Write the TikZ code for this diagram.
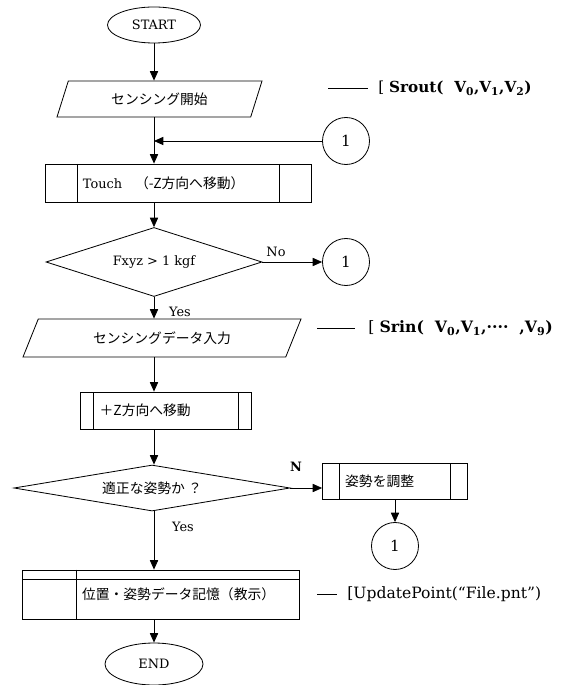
\documentclass[tikz,border=0pt]{standalone}
\usepackage{fontspec}
\setmainfont{DejaVu Serif}
\newfontfamily\jp[Scale=1.07]{Noto Sans CJK JP}
\usetikzlibrary{shapes.geometric,arrows.meta}
\tikzset{
  arr/.style={-{Triangle[length=8pt,width=7pt]}},
  term/.style={draw, ellipse, minimum width=2.79cm, minimum height=1.08cm, inner sep=0pt},
  io/.style={draw, trapezium, trapezium stretches body, inner sep=0pt},
  test/.style={draw, diamond, inner sep=0pt},
  conn/.style={draw, circle, minimum size=1.41cm, inner sep=0pt, font=\fontsize{13}{15}\selectfont},
  subproc/.style={draw, rectangle, inner xsep=0pt, align=left,
    path picture={
      \draw ([xshift=#1]path picture bounding box.north west) -- ([xshift=#1]path picture bounding box.south west);
      \draw ([xshift=-#1]path picture bounding box.north east) -- ([xshift=-#1]path picture bounding box.south east);}},
  note/.style={anchor=west, inner sep=0pt, font=\fontsize{13}{15}\selectfont},
}
\begin{document}
\begin{tikzpicture}[x=0.03cm, y=-0.03cm, line width=0.7pt, font=\fontsize{11}{13}\selectfont]
\useasboundingbox (0,0) rectangle (560,685);
	% main column
	\node[term] (start) at (154,25) {START};
	\node[io, trapezium left angle=48.4, trapezium right angle=131.6, minimum width=6.15cm, minimum height=1.08cm] (sense) at (159.5,99) {{\jp センシング開始}};
	\node[subproc=0.96cm, minimum width=7.98cm, text width=7.98cm, minimum height=1.14cm] (touch) at (178,183) {\hspace*{1.14cm}Touch\quad{\jp （-Z方向へ移動）}};
	\node[test, aspect=3.13, minimum width=6.48cm, minimum height=2.07cm] (fxyz) at (154,262) {Fxyz > 1 kgf};
	\node[io, trapezium left angle=40.2, trapezium right angle=139.8, minimum width=8.34cm, minimum height=1.14cm] (sdata) at (162,338) {{\jp センシングデータ入力}};
	\node[subproc=0.39cm, minimum width=5.13cm, text width=5.13cm, minimum height=1.11cm] (movez) at (165.5,410.5) {\hspace*{0.59cm}{\jp ＋Z方向へ移動}};
	\node[test, aspect=6, minimum width=8.28cm, minimum height=1.38cm] (pose) at (152,488) {{\jp 適正な姿勢か ？}};
	\node[draw, rectangle, inner xsep=0pt, align=left, minimum width=8.3cm, text width=8.3cm, minimum height=1.47cm] (store) at (160.75,594.5) {\hspace*{1.79cm}{\jp 位置・姿勢データ記憶（教示）}};
	\draw ([xshift=1.64cm]store.north west) -- ([xshift=1.64cm]store.south west);
	\draw ([yshift=-0.3cm]store.north west) -- ([yshift=-0.3cm]store.north east);
	\node[term, minimum width=2.94cm, minimum height=1.26cm] (end) at (154,664) {END};
	% side branch
	\node[conn] (c1) at (346,141) {1};
	\node[conn] (c2) at (346,262) {1};
	\node[subproc=0.51cm, minimum width=4.35cm, text width=4.35cm, minimum height=1.08cm] (adjust) at (395,481) {\hspace*{0.68cm}{\jp 姿勢を調整}};
	\node[conn] (c3) at (395,546) {1};
	% labels
	\node (no) at (276,252) {No};
	\node (yes1) at (180,312) {Yes};
	\node (n) at (296,467) {\textbf{N}};
	\node (yes2) at (183,527) {Yes};
	% connectors
	\draw[arr] (start.south) -- (start.south |- sense.north);
	\draw[arr] (start.south |- sense.south) -- (start.south |- touch.north);
	\draw[arr] (c1.west) -- (c1.west -| start.south);
	\draw[arr] (start.south |- touch.south) -- (fxyz.north);
	\draw[arr] (fxyz.east) -- (c2.west);
	\draw[arr] (fxyz.south) -- (fxyz.south |- sdata.north);
	\draw[arr] (fxyz.south |- sdata.south) -- (fxyz.south |- movez.north);
	\draw[arr] (fxyz.south |- movez.south) -- (fxyz.south |- pose.north);
	\draw[arr] (pose.east) -- (pose.east -| adjust.west);
	\draw[arr] (adjust.south) -- (c3.north);
	\draw[arr] (fxyz.south |- pose.south) -- (fxyz.south |- store.north);
	\draw[arr] (end.north |- store.south) -- (end.north);
	% annotations
	\node[note] (srout) at (378,88) {[\ \textbf{Srout(\ \ V\textsubscript{0},V\textsubscript{1},V\textsubscript{2})}};
	\coordinate (srouttick) at (328,88);
	\draw[line width=0.6pt] (srouttick) -- ([xshift=-10*0.03cm]srout.west);
	\node[note, font=\fontsize{13.4}{15}\selectfont] (srin) at (368,328) {[\ \textbf{Srin(\ \ V\textsubscript{0},V\textsubscript{1},····\ \ ,V\textsubscript{9})}};
	\coordinate (srintick) at (317,328);
	\draw[line width=0.6pt] (srintick) -- ([xshift=-13*0.03cm]srin.west);
	\node[note, font=\fontsize{13.3}{15}\selectfont] (upd) at (347,594) {[UpdatePoint(“File.pnt”)};
	\coordinate (updtick) at (317,594);
	\draw[line width=0.6pt] (updtick) -- ([xshift=-10*0.03cm]upd.west);
\end{tikzpicture}
\end{document}
